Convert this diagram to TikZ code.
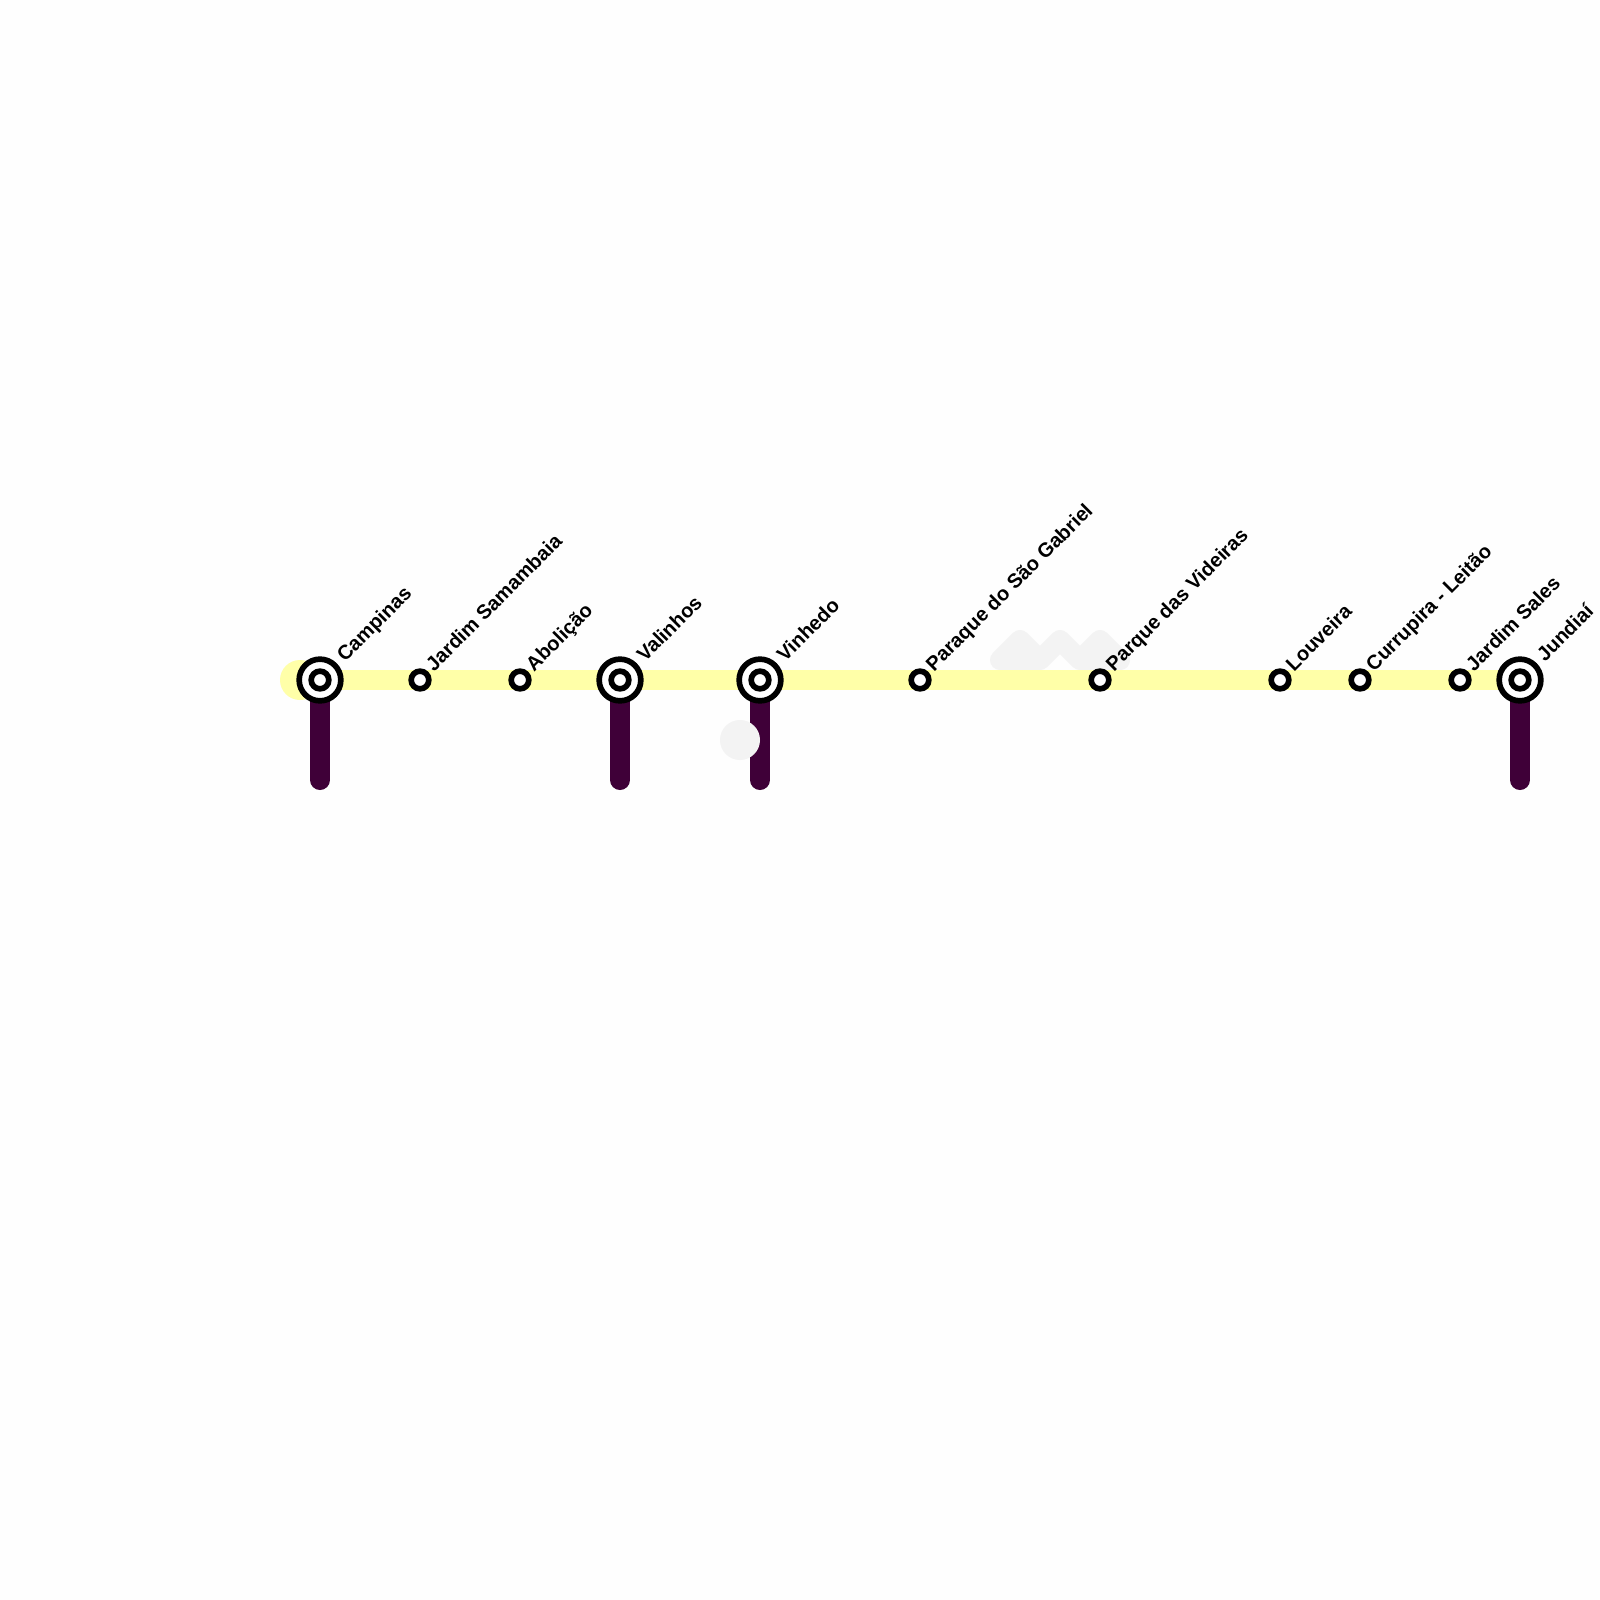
\documentclass[tikz,border=0pt]{standalone}
\usepackage{fontspec}
\setmainfont{Liberation Sans}
\usetikzlibrary{backgrounds}
\definecolor{metroyellow}{HTML}{FFFFA8}
\definecolor{metropurple}{HTML}{3F0038}
\definecolor{metrogray}{HTML}{F3F3F3}
\definecolor{paper}{HTML}{FEFEFE}
\begin{document}
\begin{tikzpicture}[x=0.01cm,y=-0.01cm]
  \tikzset{
    every node/.style={inner sep=0pt,outer sep=0pt},
    track/.style={line width=20*0.2845pt,line cap=round,line join=round},
    stop/.style={circle,draw=black,fill=white,line width=5.67*0.2845pt,minimum size=17.66*0.2845pt},
    bigring/.style={circle,draw=black,fill=white,line width=5.67*0.2845pt,minimum size=41.66*0.2845pt},
    stoplabel/.style={font=\bfseries\fontsize{5.7pt}{7pt}\selectfont,rotate=45,anchor=base west}
  }

  \useasboundingbox (0,0) rectangle (1600,1600);

  % interchange stations
  \foreach \name/\x in {campinas/320,valinhos/620,vinhedo/760,jundiai/1520} {
    \node[bigring] (\name) at (\x,680) {};
    \node[stop] (\name core) at (\x,680) {};
    \coordinate (\name end) at (\x,780);
  }

  % plain stations
  \foreach \name/\x in {samambaia/420,abolicao/520,gabriel/920,videiras/1100,louveira/1280,leitao/1360,sales/1460}
    \node[stop] (\name) at (\x,680) {};

  \coordinate (west) at (300,680);

  % lines
  \begin{scope}[on background layer]
    \fill[paper] (0,0) rectangle (1600,1600);
    \draw[track,metrogray] (1000,660) -- (1020,640) -- (1040,660) -- (1060,640) -- (1080,660) -- (1100,640) -- (1120,660) -- (1080,660) (1040,660) -- (1000,660);
    \fill[metroyellow] (west) circle (20);
    \draw[line width=20*0.2845pt,metroyellow] (west) -- (jundiai.center);
    \foreach \name in {campinas,valinhos,vinhedo,jundiai}
      \draw[track,metropurple] (\name.center) -- (\name end);
    \fill[metrogray] (740,740) circle (20);
  \end{scope}

  % labels
  \node[stoplabel] (lcampinas) at (345,662.5) {Campinas};
  \node[stoplabel] (lsamambaia) at (434,672) {Jardim Samambaia};
  \node[stoplabel] (labolicao) at (534,672) {Abolição};
  \node[stoplabel] (lvalinhos) at (645,662.5) {Valinhos};
  \node[stoplabel] (lvinhedo) at (785,662.5) {Vinhedo};
  \node[stoplabel] (lgabriel) at (934,672) {Paraque do São Gabriel};
  \node[stoplabel] (lvideiras) at (1114,672) {Parque das Videiras};
  \node[stoplabel] (llouveira) at (1294,672) {Louveira};
  \node[stoplabel] (lleitao) at (1374,672) {Currupira - Leitão};
  \node[stoplabel] (lsales) at (1474,672) {Jardim Sales};
  \node[stoplabel] (ljundiai) at (1545,662.5) {Jundiaí};
\end{tikzpicture}
\end{document}
